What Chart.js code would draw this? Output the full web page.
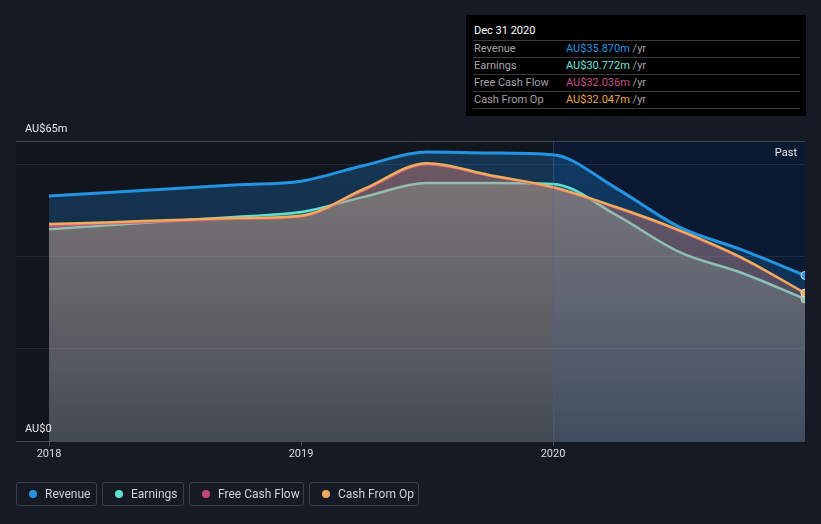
<!DOCTYPE html>
<html>
<head>
<meta charset="utf-8">
<script src="https://cdn.jsdelivr.net/npm/chart.js@4.4.1/dist/chart.umd.min.js"></script>
<style>
  body { margin: 0; background: #151a24; font-family: Roboto, "Open Sans", sans-serif; }
  #wrap { position: relative; width: 821px; height: 524px; }
  #tip { position: absolute; left: 466px; top: 15px; width: 340px; height: 101px; background: #000; font-size: 11px; }
  #tip .title { position: absolute; left: 8px; top: 8px; color: #fff; line-height: 16px; }
  #tip .row { position: absolute; left: 7px; right: 6px; height: 16px; line-height: 16px; border-top: 1px solid #3a3a3a; }
  #tip .row.last { border-bottom: 1px solid #3a3a3a; }
  #tip .lbl { position: absolute; left: 1px; color: #a3a3a3; }
  #tip .val { position: absolute; left: 93px; }
  #tip .unit { color: #a3a3a3; }
  .leg { position: absolute; top: 482px; height: 24px; border: 1px solid #3a3f4a; border-radius: 3px; box-sizing: border-box; color: #cfd2d6; font-size: 12px; line-height: 22px; }
  .leg .dot { position: absolute; left: 12px; top: 7px; width: 8px; height: 8px; border-radius: 50%; }
  .leg .txt { position: absolute; left: 28px; }
</style>
</head>
<body>
<div id="wrap">
  <canvas id="grafica" width="821" height="524"></canvas>
  <div id="tip"></div>
  <div id="legend"></div>
</div>
<script>
// datos (en millones AU$)
const fechas = [2018.0, 2018.25, 2018.5, 2018.75, 2019.0, 2019.25, 2019.5, 2019.75, 2020.0, 2020.25, 2020.5, 2020.75, 2021.0];
const revenue = [53.1, 53.9, 54.7, 55.5, 56.3, 59.7, 62.6, 62.4, 62.0, 54.8, 46.4, 41.4, 35.87];
const earnings = [45.9, 46.8, 47.7, 48.6, 49.6, 52.9, 55.9, 55.9, 55.7, 49.0, 41.0, 36.4, 30.77];
const freeCashFlow = [46.6, 47.1, 47.6, 48.1, 48.6, 54.3, 59.9, 57.4, 54.8, 50.5, 45.5, 39.5, 32.04];
const cashFromOp = [47.0, 47.4, 47.9, 48.3, 48.8, 54.6, 60.2, 57.6, 55.0, 50.7, 45.7, 39.7, 32.05];
const xTicks = [2018, 2019, 2020];
const yTicks = [0, 20, 40, 60, 65];

const nombres = ["Revenue", "Earnings", "Free Cash Flow", "Cash From Op"];
const colores = ["#2394e1", "#5fe0d0", "#c8457f", "#efac5a"];
const valoresTip = ["AU$35.870m", "AU$30.772m", "AU$32.036m", "AU$32.047m"];
const coloresTip = ["#2394e1", "#6ce5d6", "#c94d84", "#e9a84e"];

// tooltip fijo
let tip = `<div class="title">Dec 31 2020</div>`;
nombres.forEach((n, i) => {
  tip += `<div class="row${i === 3 ? " last" : ""}" style="top:${25 + i * 17}px"><span class="lbl">${n}</span><span class="val"><span style="color:${coloresTip[i]}">${valoresTip[i]}</span> <span class="unit">/yr</span></span></div>`;
});
document.getElementById("tip").innerHTML = tip;

// leyenda
const legPos = [[16, 81], [102, 82], [189, 115], [309, 110]];
let leg = "";
nombres.forEach((n, i) => {
  leg += `<div class="leg" style="left:${legPos[i][0]}px;width:${legPos[i][1]}px"><span class="dot" style="background:${colores[i]}"></span><span class="txt">${n}</span></div>`;
});
document.getElementById("legend").innerHTML = leg;

function gradiente(top, bottom) {
  return (ctx) => {
    const area = ctx.chart.chartArea;
    if (!area) return top;
    const g = ctx.chart.ctx.createLinearGradient(0, area.top, 0, area.bottom);
    g.addColorStop(0, top);
    g.addColorStop(1, bottom);
    return g;
  };
}

function serie(label, data, color, fillTop, fillBottom, width, order) {
  const last = data.length - 1;
  return {
    label: label,
    data: data.map((v, i) => ({ x: fechas[i], y: v })),
    borderColor: color,
    borderWidth: width,
    backgroundColor: gradiente(fillTop, fillBottom),
    fill: "origin",
    cubicInterpolationMode: "monotone",
    pointRadius: (c) => (c.dataIndex === last ? 4 : 0),
    pointBackgroundColor: color,
    pointBorderColor: "#d8dde6",
    pointBorderWidth: 1,
    order: order,
  };
}

// fondo del area y etiquetas
const fondoPlugin = {
  id: "fondo",
  beforeDraw(chart) {
    const { ctx, chartArea: a, scales } = chart;
    const x20 = scales.x.getPixelForValue(2020);
    ctx.save();
    ctx.fillStyle = "#11151d";
    ctx.fillRect(a.left, a.top, x20 - a.left, a.bottom - a.top);
    ctx.fillStyle = "#0b1a32";
    ctx.fillRect(x20, a.top, a.right - x20, a.bottom - a.top);
    ctx.restore();
  },
  afterDatasetsDraw(chart) {
    const { ctx, chartArea: a, scales } = chart;
    const x20 = scales.x.getPixelForValue(2020);
    ctx.save();
    ctx.strokeStyle = "rgba(70,100,150,0.45)";
    ctx.lineWidth = 1;
    ctx.beginPath();
    ctx.moveTo(x20 + 0.5, a.top);
    ctx.lineTo(x20 + 0.5, a.bottom);
    ctx.stroke();
    ctx.fillStyle = "#e6e8eb";
    ctx.font = "11px Roboto";
    ctx.textBaseline = "middle";
    ctx.textAlign = "right";
    ctx.fillText("Past", a.right - 8, 153);
    ctx.textAlign = "left";
    ctx.fillText("AU$65m", 25, scales.y.getPixelForValue(65) - 12);
    ctx.fillText("AU$0", 25, scales.y.getPixelForValue(0) - 12);
    ctx.restore();
  },
};

const ctx = document.getElementById("grafica").getContext("2d");
window.myChart = new Chart(ctx, {
  type: "line",
  data: {
    datasets: [
      serie("Revenue", revenue, colores[0], "rgba(33,150,243,0.26)", "rgba(33,150,243,0.12)", 3, 3),
      serie("Earnings", earnings, colores[1], "rgba(110,225,200,0.30)", "rgba(110,225,200,0.13)", 2.5, 2),
      serie("Free Cash Flow", freeCashFlow, colores[2], "rgba(200,70,130,0.20)", "rgba(200,70,130,0.08)", 2, 1),
      serie("Cash From Op", cashFromOp, colores[3], "rgba(240,165,115,0.30)", "rgba(240,165,115,0.12)", 2.5, 0),
    ],
  },
  options: {
    responsive: false,
    animation: false,
    layout: { padding: { left: 16, right: 16, top: 141, bottom: 53 } },
    plugins: { legend: { display: false }, tooltip: { enabled: false } },
    scales: {
      x: {
        type: "linear",
        min: 2017.869,
        max: 2021.0,
        afterBuildTicks: (scale) => {
          scale.ticks = xTicks.map((v) => ({ value: v }));
        },
        afterFit: (scale) => {
          scale.height = 30;
        },
        ticks: {
          color: "#dcdfe3",
          font: { family: "Roboto", size: 11 },
          padding: 2,
          maxRotation: 0,
          callback: (v) => String(v),
        },
        grid: { drawOnChartArea: false, tickLength: 5, color: "#4a4f58" },
        border: { display: false },
      },
      y: {
        min: 0,
        max: 65,
        z: 1,
        afterBuildTicks: (scale) => {
          scale.ticks = yTicks.map((v) => ({ value: v }));
        },
        afterFit: (scale) => {
          scale.width = 0;
        },
        ticks: { display: false },
        grid: {
          drawTicks: false,
          color: (c) => (c.tick.value === 0 || c.tick.value === 65 ? "rgba(120,128,140,0.45)" : "rgba(150,160,175,0.14)"),
        },
        border: { display: false },
      },
    },
  },
  plugins: [fondoPlugin],
});
</script>
</body>
</html>
